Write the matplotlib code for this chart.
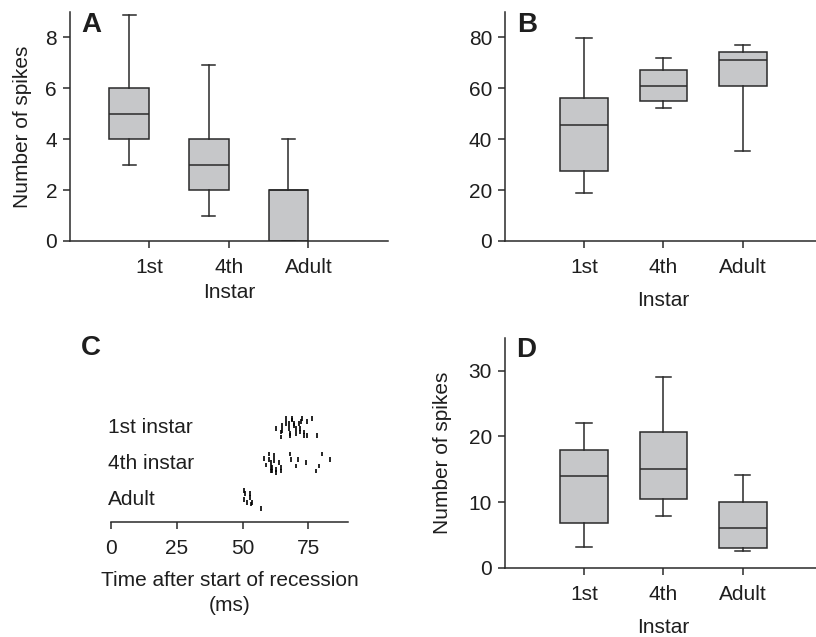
import matplotlib
matplotlib.use("Agg")
import matplotlib.pyplot as plt

plt.rcParams['font.family'] = ['Liberation Sans', 'DejaVu Sans']
plt.rcParams['font.size'] = 15

instars = ['1st', '4th', 'Adult']

# panel A: number of spikes (box stats)
a_low = [3, 1, 0]
a_q1 = [4, 2, 0]
a_med = [5, 3, 2]
a_q3 = [6, 4, 2]
a_high = [8.9, 6.9, 4]

# panel B
b_low = [18.7, 52.2, 35.3]
b_q1 = [27.6, 55.1, 60.9]
b_med = [45.6, 61.1, 71.1]
b_q3 = [56.3, 67.0, 74.1]
b_high = [79.6, 72.0, 76.9]

# panel D: number of spikes
d_low = [3.1, 7.9, 2.6]
d_q1 = [6.8, 10.5, 3.0]
d_med = [14.0, 15.0, 6.0]
d_q3 = [18.0, 20.7, 10.0]
d_high = [22.0, 29.0, 14.2]

# panel C: raster, spike time (ms) and trial row (0 = top row of group)
first_t = [62.5, 64.5, 64.5, 65.1, 65.1, 66.6, 66.6, 67.6, 67.6, 67.9, 67.9,
           68.9, 68.9, 69.4, 69.4, 70.2, 70.2, 71.3, 71.7, 71.7, 72.1, 72.7,
           73.2, 73.2, 74.6, 74.6, 76.5, 78.3]
first_r = [6, 8, 11, 4, 7, 0, 3, 3, 6, 9, 10,
           0, 1, 3, 4, 6, 9, 3, 6, 8, 2, 0,
           8, 10, 2, 10, 0, 10]
fourth_t = [58.0, 58.8, 60.1, 60.1, 60.6, 60.6, 60.6, 61.3, 61.3, 62.0, 62.0,
            62.6, 62.6, 63.7, 64.7, 64.7, 67.9, 68.5, 70.2, 71.1, 74.0, 78.0,
            78.9, 80.0, 83.3]
fourth_r = [2.5, 6.5, 0, 3, 5, 8, 10, 8, 10, 1, 4,
            9, 11, 5, 8, 10, 0, 3, 7, 3, 5, 10,
            7, 0, 3]
adult_t = [50.5, 51.0, 52.7, 52.7, 50.7, 51.5, 53.0, 53.6, 56.8]
adult_r = [0, 2, 2, 4, 5.5, 7, 8, 7, 10.5]

box_fc = '#c6c7c9'
ink = '#2a2a2a'
txt = '#1e1e1e'


def stats(low, q1, med, q3, high):
    return [dict(whislo=l, q1=a, med=m, q3=b, whishi=h, fliers=[])
            for l, a, m, b, h in zip(low, q1, med, q3, high)]


def style(ax):
    for s in ['top', 'right']:
        ax.spines[s].set_visible(False)
    for s in ['left', 'bottom']:
        ax.spines[s].set_color(ink)
        ax.spines[s].set_linewidth(1.1)
    ax.tick_params(direction='out', length=5, width=1.1, color=ink,
                   labelcolor=txt, labelsize=15)
    ax.tick_params(axis='x', pad=7.5)
    ax.tick_params(axis='y', pad=4)


def boxes(ax, st, pos, width, capw):
    lp = dict(color=ink, linewidth=1.1)
    ax.bxp(st, positions=pos, widths=width, patch_artist=True,
           showfliers=False, capwidths=capw,
           boxprops=dict(facecolor=box_fc, edgecolor=ink, linewidth=1.1),
           medianprops=lp, whiskerprops=lp, capprops=lp)


fig = plt.figure(figsize=(8.16, 6.37), dpi=100)

# A
axA = fig.add_axes([0.0852, 0.6217, 0.3903, 0.3595])
boxes(axA, stats(a_low, a_q1, a_med, a_q3, a_high), [0.75, 1.75, 2.75], 0.5, 0.16)
axA.set_xlim(0, 4)
axA.set_ylim(0, 9)
axA.set_yticks([0, 2, 4, 6, 8])
axA.set_xticks([1, 2, 3])
axA.set_xticklabels(instars)
axA.set_xlabel('Instar', color=txt, labelpad=4)
axA.set_ylabel('Number of spikes', color=txt, labelpad=9.5)
style(axA)
fig.text(0.112, 0.961, 'A', fontsize=20, fontweight='bold', ha='center', va='center', color=txt)

# B
axB = fig.add_axes([0.6184, 0.6217, 0.3892, 0.3595])
boxes(axB, stats(b_low, b_q1, b_med, b_q3, b_high), [1, 2, 3], 0.6, 0.19)
axB.set_xlim(0, 4)
axB.set_ylim(0, 90)
axB.set_yticks([0, 20, 40, 60, 80])
axB.set_xticks([1, 2, 3])
axB.set_xticklabels(instars)
axB.set_xlabel('Instar', color=txt, labelpad=9.5)
style(axB)
fig.text(0.646, 0.961, 'B', fontsize=20, fontweight='bold', ha='center', va='center', color=txt)

# D
axD = fig.add_axes([0.6184, 0.1088, 0.3892, 0.3606])
boxes(axD, stats(d_low, d_q1, d_med, d_q3, d_high), [1, 2, 3], 0.6, 0.19)
axD.set_xlim(0, 4)
axD.set_ylim(0, 35)
axD.set_yticks([0, 10, 20, 30])
axD.set_xticks([1, 2, 3])
axD.set_xticklabels(instars)
axD.set_xlabel('Instar', color=txt, labelpad=10)
axD.set_ylabel('Number of spikes', color=txt, labelpad=12)
style(axD)
fig.text(0.645, 0.451, 'D', fontsize=20, fontweight='bold', ha='center', va='center', color=txt)

# C raster
row_h = 1.7  # px per trial row
axC = fig.add_axes([0.136, 0.181, 0.2904, 0.191])
axC.set_xlim(0, 90)
axC.set_ylim(0, 121.7 / row_h)
tick_len = 2.8
groups = [('1st instar', first_t, first_r, 62.2),
          ('4th instar', fourth_t, fourth_r, 41.2),
          ('Adult', adult_t, adult_r, 19.8)]
for name, t, r, top in groups:
    y1 = [top - v for v in r]
    y0 = [v - tick_len for v in y1]
    axC.vlines(t, y0, y1, color='black', linewidth=1.2)
    center = top - (max(r) + tick_len) / 2
    axC.text(-1.2, center, name, ha='left', va='center', color=txt, fontsize=15)
axC.set_xticks([0, 25, 50, 75])
axC.set_yticks([])
style(axC)
axC.spines['left'].set_visible(False)
axC.set_xlabel('Time after start of recession\n(ms)', color=txt, labelpad=9,
               linespacing=1.45)
fig.text(0.1115, 0.454, 'C', fontsize=20, fontweight='bold', ha='center', va='center', color=txt)

fig.savefig('out.png', dpi=100)
